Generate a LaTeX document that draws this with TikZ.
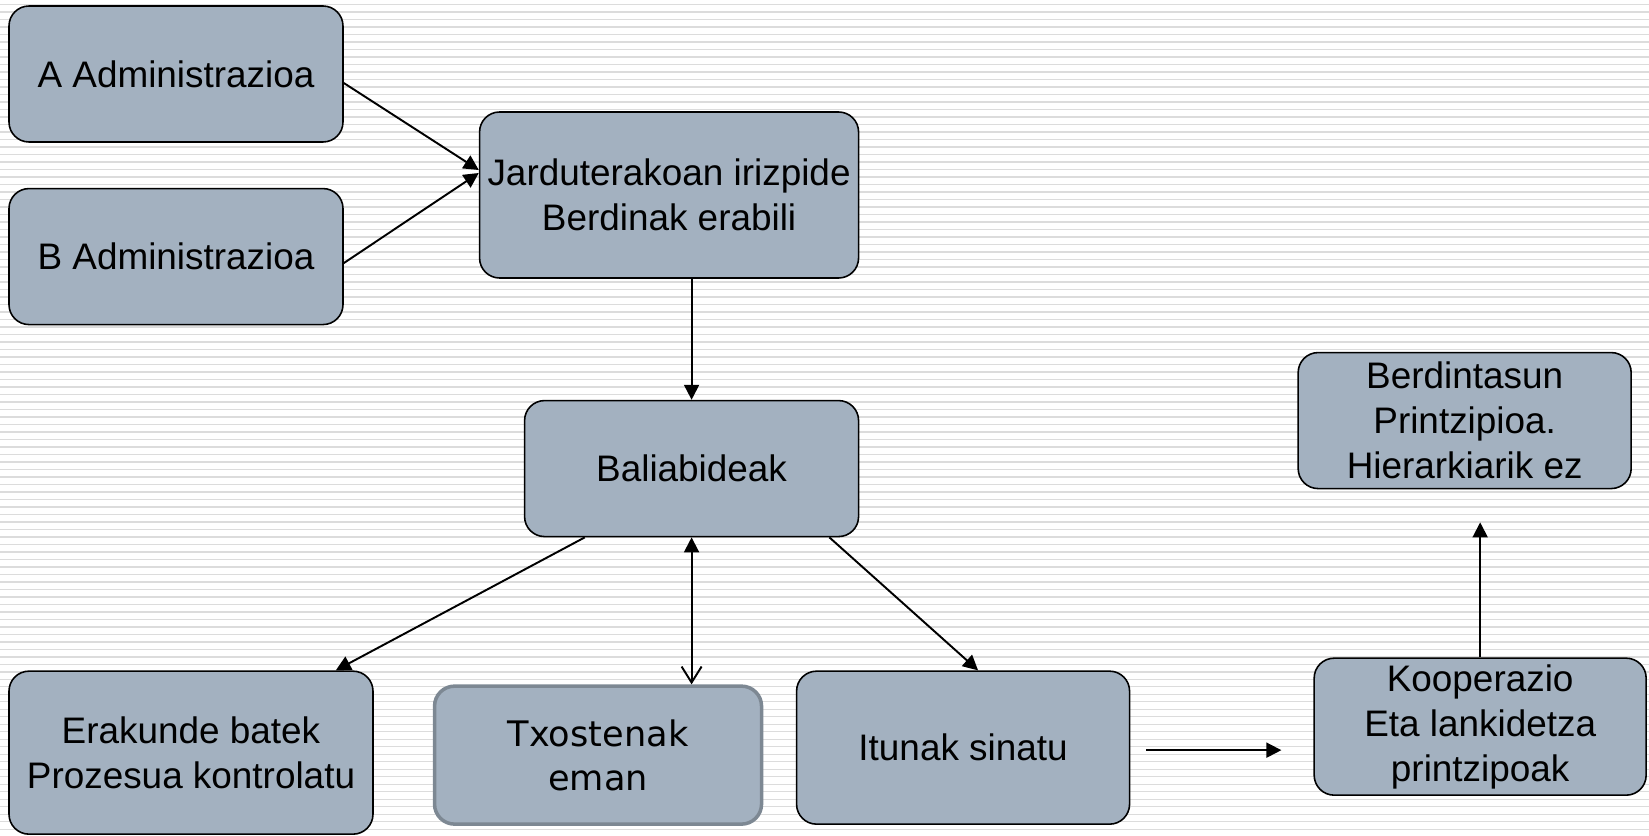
\documentclass[tikz,border=0pt]{standalone}
\usepackage{fontspec}
\setmainfont{Liberation Sans}
\newfontfamily\txofont{DejaVu Sans}
\usetikzlibrary{arrows.meta,positioning}
\definecolor{boxfill}{HTML}{A3B1C0}
\definecolor{boxrim}{HTML}{7D8893}
\definecolor{stripe}{HTML}{DCDCDC}

\begin{document}
\begin{tikzpicture}[>={Triangle[length=0.3cm,width=0.3cm]}, line width=1.1pt,
	every node/.style={font=\fontsize{21pt}{25.5pt}\selectfont, align=center},
	box/.style={draw, fill=boxfill, rounded corners=0.4cm, line width=0.9pt, inner sep=0pt},
	stripe/.style={draw=stripe, line width=0.6pt}]
	\useasboundingbox (0,0) rectangle (32.98,-16.72);
	\foreach \k in {0,...,110}
		\draw[stripe] (0,-0.09-0.15*\k) -- (32.98,-0.09-0.15*\k);

	\node[box,minimum width=6.68cm,minimum height=2.72cm] (admA) at (3.52,-1.48) {A Administrazioa};
	\node[box,minimum width=6.68cm,minimum height=2.72cm] (admB) [below=0.9cm of admA] {B Administrazioa};
	\node[box,minimum width=7.58cm,minimum height=3.32cm] (jard) [below right=2.12cm and 2.7cm of admA.north east] {Jarduterakoan irizpide\\Berdinak erabili};
	\node[box,minimum width=6.68cm,minimum height=2.72cm] (bali) [below left=2.42cm and 0cm of jard.south east] {Baliabideak};

	\node[box,minimum width=7.28cm,minimum height=3.26cm] (erak) [below right=6.9cm and 0cm of admB.south west] {Erakunde batek\\Prozesua kontrolatu};
	\node[box,draw=boxrim,line width=2pt,minimum width=6.54cm,minimum height=2.76cm,font=\txofont\fontsize{20pt}{25pt}\selectfont] (txo) [below right=0.28cm and 1.18cm of erak.north east] {Txostenak\\eman};
	\node[box,minimum width=6.66cm,minimum height=3.06cm] (itun) [below right=0cm and 8.44cm of erak.north east] {Itunak sinatu};
	\node[box,minimum width=6.64cm,minimum height=2.74cm] (koop) [below right=-0.26cm and 3.66cm of itun.north east] {Kooperazio\\Eta lankidetza\\printzipoak};
	\node[box,minimum width=6.66cm,minimum height=2.72cm] (berd) [above=3.36cm of koop, xshift=-0.31cm] {Berdintasun\\Printzipioa.\\Hierarkiarik ez};

	\coordinate (itunOut) at ([xshift=0.32cm,yshift=-0.05cm]itun.east);
	\coordinate (koopIn) at ([xshift=-0.64cm]koop.west |- itunOut);
	\coordinate (koopTop) at (koop.north);
	\coordinate (berdIn) at ([yshift=-0.66cm]berd.south -| koopTop);

	\path[->]
	([yshift=-0.18cm]admA.east) edge ([yshift=0.5cm]jard.west)
	([yshift=-0.13cm]admB.east) edge ([yshift=0.44cm]jard.west)

	(jard.south -| bali.north) edge (bali.north)

	([xshift=1.22cm]bali.south west) edge ([xshift=-0.76cm]erak.north east)
	([xshift=-0.6cm]bali.south east) edge ([xshift=0.3cm]itun.north)

	(itunOut) edge (koopIn)
	(koopTop) edge (berdIn)
	;
	\draw[{Triangle[length=0.3cm,width=0.3cm]}-{Straight Barb[length=0.32cm,width=0.4cm]}] (bali.south) -- (bali.south |- txo.north);
\end{tikzpicture}
\end{document}
